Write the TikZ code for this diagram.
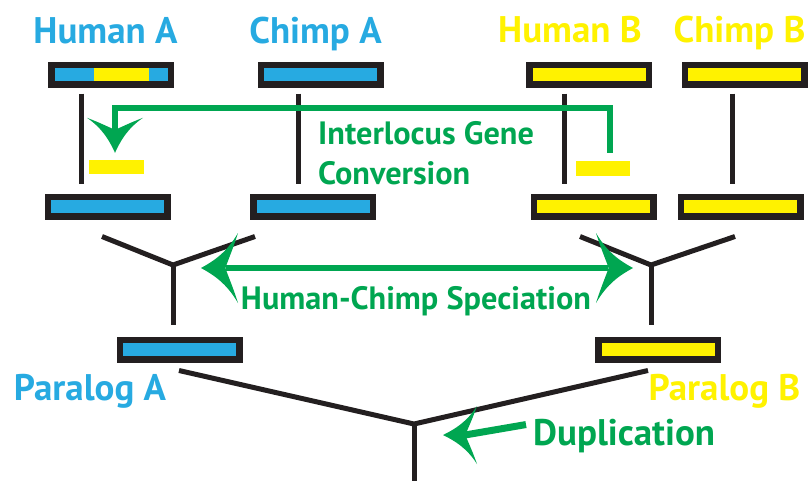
\documentclass[tikz,border=0pt]{standalone}
\usepackage{fontspec}
\setmainfont{PT Sans}
\usetikzlibrary{calc}
\definecolor{cblue}{HTML}{27AAE1}
\definecolor{cyellow}{HTML}{FFF200}
\definecolor{cgreen}{HTML}{00A651}
\definecolor{cblack}{HTML}{231F20}
\newcommand\sweptHead[4]{%
  \fill[cgreen, shift={#1}, rotate=#2] (0,0)
    .. controls (-0.35*#3, 0.2*#4) and (-0.7*#3, 0.45*#4) .. (-#3, #4)
    .. controls (-0.85*#3, 0.5*#4) and (-0.72*#3, 0.2*#4) .. (-0.66*#3, 0)
    .. controls (-0.72*#3, -0.2*#4) and (-0.85*#3, -0.5*#4) .. (-#3, -#4)
    .. controls (-0.7*#3, -0.45*#4) and (-0.35*#3, -0.2*#4) .. cycle;}
\tikzset{
  gene/.style={rectangle, draw=cblack, line width=6.5pt, minimum width=119.5pt, minimum height=19.5pt, inner sep=0pt},
  bluegene/.style={gene, fill=cblue},
  yelgene/.style={gene, fill=cyellow},
  patch/.style={rectangle, fill=cyellow, inner sep=0pt},
  tree/.style={draw=cblack, line width=5pt},
  shaft/.style={draw=cgreen, line width=5.5pt},
  bigtxt/.style={font=\bfseries\fontsize{37}{40}\selectfont, anchor=base, inner sep=0pt},
  midtxt/.style={font=\bfseries\fontsize{32.3}{36}\selectfont, anchor=base, inner sep=0pt, text=cgreen},
}
\begin{document}
\begin{tikzpicture}[x=1pt, y=-1pt]
\useasboundingbox (0,0) rectangle (809,480);
% titles
\node[bigtxt, text=cblue] (tHA) at (105.5,43) {Human A};
\node[bigtxt, text=cblue] (tCA) at (315.5,43) {Chimp A};
\node[bigtxt, text=cyellow] (tHB) at (570,42) {Human B};
\node[bigtxt, text=cyellow] (tCB) at (739.5,42) {Chimp B};
% genes
\node[bluegene] (hA1) at (111,74.5) {};
\node[patch, minimum width=55pt, minimum height=13pt] (ins) at (121.5,74.5) {};
\node[bluegene] (cA1) at (320.5,74.5) {};
\node[yelgene] (hB1) at (589,74.5) {};
\node[yelgene] (cB1) at (744.5,74.5) {};
\node[bluegene] (hA2) at (107.5,206.5) {};
\node[bluegene] (cA2) at (313,206.5) {};
\node[yelgene] (hB2) at (593.5,206.5) {};
\node[yelgene] (cB2) at (740.5,206.5) {};
\node[bluegene] (pA) at (179.5,349.5) {};
\node[yelgene] (pB) at (658,349.5) {};
% small converted pieces
\node[patch, minimum width=55pt, minimum height=14pt] (ybL) at (116.5,167) {};
\node[patch, minimum width=54pt, minimum height=15pt] (ybR) at (603,168.5) {};
% vertical lineages
\draw[tree] ($(hA1.south)+(-30,6)$) -- ($(hA2.north)+(-26.5,-10)$);
\draw[tree] ($(cA1.south)+(-22.5,6)$) -- ($(cA2.north)+(-15,-10)$);
\draw[tree] ($(hB1.south)+(-25,6)$) -- ($(hB2.north)+(-29.5,-10)$);
\draw[tree] ($(cB1.south)+(-12.5,6)$) -- ($(cB2.north)+(-8.5,-10)$);
% speciation Ys
\coordinate (jA) at (173,265);
\coordinate (jB) at (651,265);
\coordinate (jD) at (414,424);
\coordinate (root) at (414,482);
\draw[tree] ($(hA2.south)+(-5.5,17)$) -- (jA) -- ($(cA2.south)+(-58,17)$);
\draw[tree] (jA) -- ($(pA.north)+(-6.5,-12)$);
\draw[tree] ($(hB2.south)+(-13.5,17)$) -- (jB) -- ($(cB2.south)+(-5.5,17)$);
\draw[tree] (jB) -- ($(pB.north)+(-7,-12)$);
% duplication Y
\draw[tree] ($(pA.south)+(-0.5,8)$) -- (jD) -- ($(pB.south)+(-10,8)$);
\draw[tree] (jD) -- (root);
% paralog labels
\node[bigtxt, text=cblue] (tPA) at (90,400) {Paralog A};
\node[bigtxt, text=cyellow] (tPB) at (724.5,400) {Paralog B};
% gene conversion arrow
\coordinate (tipConv) at ($(ybL.north)+(-1.5,-7)$);
\draw[shaft] ($(ybR.north)+(7,-8)$) |- ($(ybL.north)+(-1.5,-52)$) -- ($(ybL.north)+(-1.5,-25)$);
\sweptHead{(tipConv)}{-90}{35}{28}
\node[midtxt, anchor=base west, align=left] (tIG) at (318,144) {Interlocus Gene};
\node[midtxt, anchor=base west] (tCv) at (318,184) {Conversion};
% speciation arrow
\coordinate (tipSL) at ($(jA)+(28,3)$);
\coordinate (tipSR) at ($(jB)+(-18,3)$);
\draw[shaft, line width=6pt] ($(tipSL)+(25,0)$) -- ($(tipSR)+(-25,0)$);
\sweptHead{(tipSL)}{180}{37}{35}
\sweptHead{(tipSR)}{0}{37}{35}
\node[midtxt] (tSp) at (416,309) {Human-Chimp Speciation};
% duplication arrow
\coordinate (tipDup) at ($(jD)+(29,11)$);
\node[bigtxt, text=cgreen, anchor=base west] (tDup) at (533,445) {Duplication};
\draw[shaft, line width=7pt] ($(tDup.west)+(-7,-11)$) -- ($(tipDup)+(22,0)$);
\sweptHead{(tipDup)}{180}{34}{29}
\end{tikzpicture}
\end{document}
